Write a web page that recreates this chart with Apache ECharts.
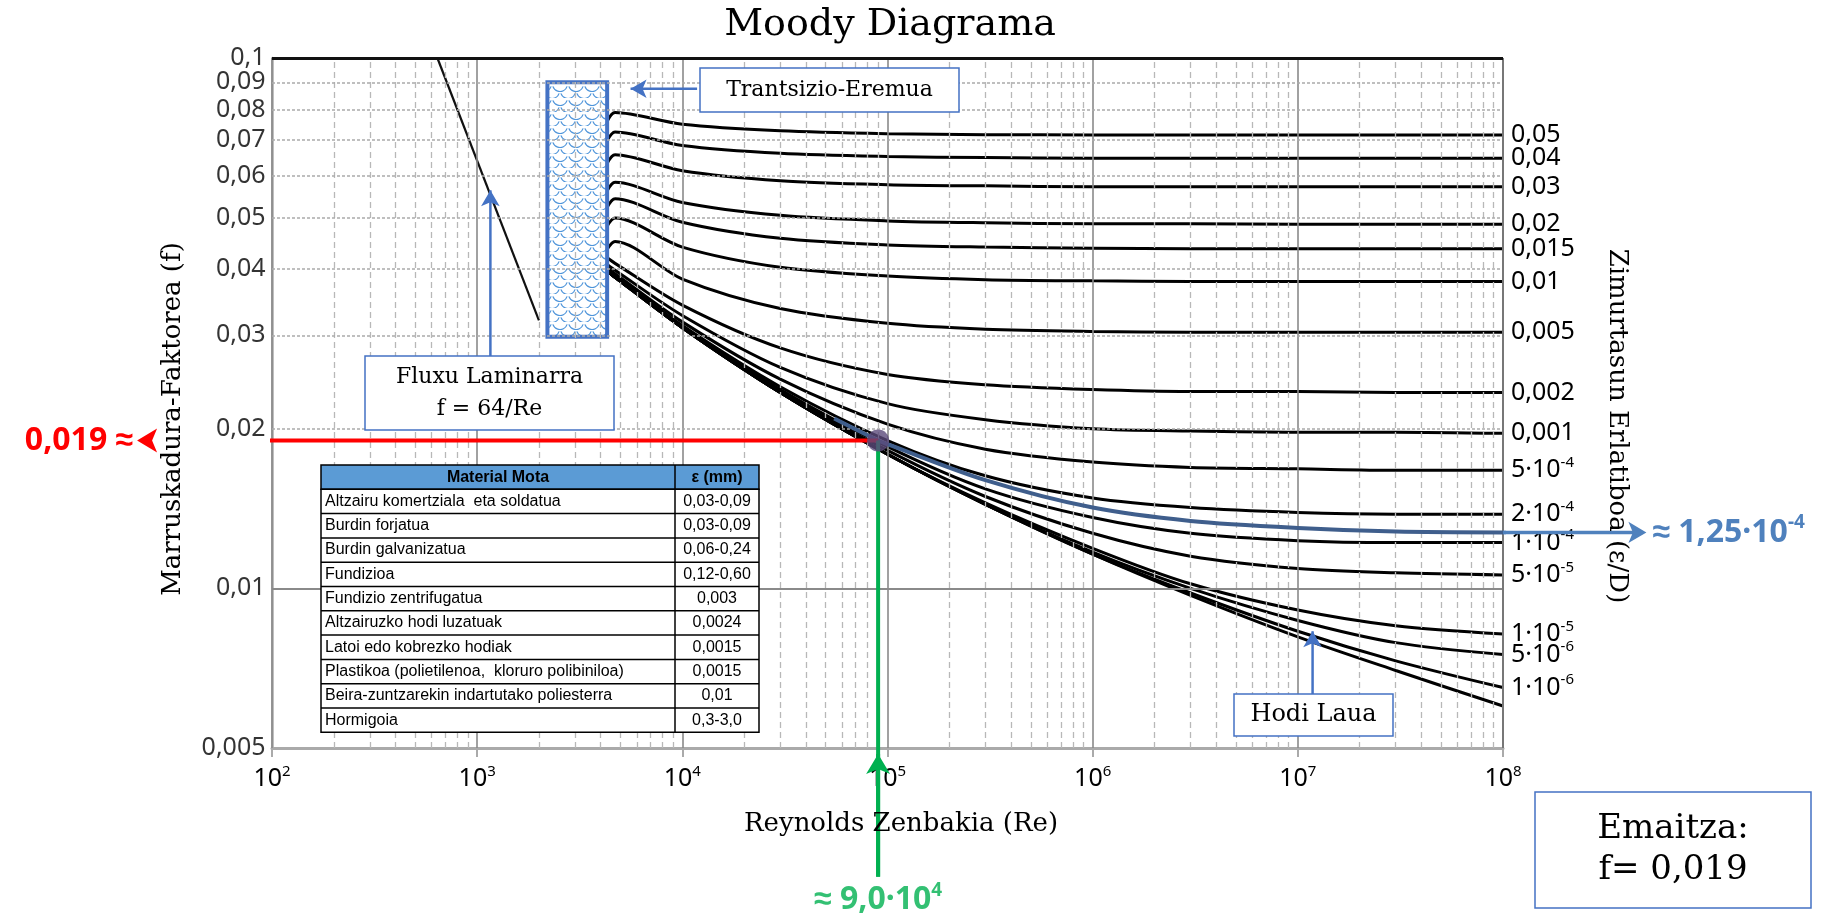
<!DOCTYPE html>
<html>
<head>
<meta charset="utf-8">
<title>Moody Diagrama</title>
<style>html,body{margin:0;padding:0;background:#fff}#chart{width:1831px;height:918px}</style>
</head>
<body>
<div id="chart"></div>
<script src="https://cdn.jsdelivr.net/npm/echarts@6/dist/echarts.min.js"></script>
<script>
// Re lagin-puntuak eta kurba bakoitzaren f balioak (irudiatik irakurriak)
var reSamples = [4300, 4700, 1e4, 3e4, 1e5, 3e5, 1e6, 3e6, 1e7, 3e7, 1e8];
var f_0_05   = [0.0760, 0.0789, 0.0750, 0.0729, 0.0720, 0.0717, 0.0716, 0.0716, 0.0716, 0.0716, 0.0716];
var f_0_04   = [0.0698, 0.0725, 0.0684, 0.0661, 0.0652, 0.0649, 0.0647, 0.0647, 0.0647, 0.0647, 0.0647];
var f_0_03   = [0.0633, 0.0657, 0.0613, 0.0587, 0.0577, 0.0574, 0.0572, 0.0572, 0.0572, 0.0572, 0.0572];
var f_0_02   = [0.0562, 0.0583, 0.0534, 0.0505, 0.0493, 0.0489, 0.0487, 0.0487, 0.0486, 0.0486, 0.0486];
var f_0_015  = [0.0523, 0.0543, 0.0490, 0.0457, 0.0444, 0.0440, 0.0438, 0.0437, 0.0437, 0.0437, 0.0437];
var f_0_01   = [0.0482, 0.0499, 0.0440, 0.0403, 0.0388, 0.0382, 0.0380, 0.0379, 0.0379, 0.0379, 0.0379];
var f_0_005  = [0.0436, 0.0451, 0.0383, 0.0337, 0.0316, 0.0308, 0.0305, 0.0304, 0.0304, 0.0304, 0.0304];
var f_0_002  = [0.0420, 0.0410, 0.0342, 0.0284, 0.0253, 0.0242, 0.0237, 0.0235, 0.0235, 0.0234, 0.0234];
var f_0_001  = [0.0408, 0.0398, 0.0327, 0.0261, 0.0223, 0.0208, 0.0200, 0.0198, 0.0197, 0.0197, 0.0196];
var f_5e_4   = [0.0402, 0.0392, 0.0318, 0.0248, 0.0204, 0.0183, 0.0173, 0.0169, 0.0168, 0.0167, 0.0167];
var f_2e_4   = [0.0399, 0.0388, 0.0313, 0.0240, 0.0190, 0.0163, 0.0148, 0.0142, 0.0139, 0.0138, 0.0138];
var f_1e_4   = [0.0398, 0.0387, 0.0312, 0.0237, 0.0185, 0.0154, 0.0136, 0.0127, 0.0123, 0.0122, 0.0122];
var f_5e_5   = [0.0397, 0.0386, 0.0311, 0.0235, 0.0182, 0.0149, 0.0127, 0.0115, 0.0109, 0.0107, 0.0106];
var f_1e_5   = [0.0397, 0.0386, 0.0310, 0.0234, 0.0179, 0.0145, 0.0119, 0.0102, 0.0091, 0.0085, 0.0082];
var f_5e_6   = [0.0397, 0.0386, 0.0310, 0.0234, 0.0179, 0.0144, 0.0117, 0.0100, 0.0087, 0.0079, 0.0075];
var f_1e_6   = [0.0397, 0.0386, 0.0310, 0.0234, 0.0179, 0.0144, 0.0116, 0.0098, 0.0083, 0.0073, 0.0065];
var f_smooth = [0.0397, 0.0386, 0.0310, 0.0234, 0.0179, 0.0144, 0.0116, 0.0097, 0.0081, 0.0070, 0.0060];

var roughLabels = ['0,05', '0,04', '0,03', '0,02', '0,015', '0,01', '0,005', '0,002', '0,001',
                   '5·10^-4', '2·10^-4', '1·10^-4', '5·10^-5', '1·10^-5', '5·10^-6', '1·10^-6'];
var roughCurves = [f_0_05, f_0_04, f_0_03, f_0_02, f_0_015, f_0_01, f_0_005, f_0_002, f_0_001,
                   f_5e_4, f_2e_4, f_1e_4, f_5e_5, f_1e_5, f_5e_6, f_1e_6];

// ε/D = 1,25·10^-4 kurba (urdina)
var reBlue = [5.5e4, 9e4, 1e5, 3e5, 1e6, 3e6, 1e7, 3e7, 1e8];
var fBlue  = [0.0209, 0.0190, 0.0187, 0.0160, 0.0142, 0.0134, 0.0130, 0.0128, 0.01275];
var blueArrowRe = [1e8, 5e8];
var blueArrowF = 0.01275;

// fluxu laminarra f = 64/Re
var reLaminar = [640, 2000];
var fLaminar  = [0.1, 0.032];

// trantsizio eremua
var transRe = [2200, 4300];
var transF  = [0.0298, 0.0900];

// emaitza puntua
var resultRe = 9e4;
var resultF = 0.019;

// ardatzak
var xTickLabels = ['10^2', '10^3', '10^4', '10^5', '10^6', '10^7', '10^8'];
var yTicks = [0.1, 0.09, 0.08, 0.07, 0.06, 0.05, 0.04, 0.03, 0.02, 0.01, 0.005];
var yTickLabels = ['0,1', '0,09', '0,08', '0,07', '0,06', '0,05', '0,04', '0,03', '0,02', '0,01', '0,005'];

// material taula
var materialHeader = ['Material Mota', 'ε (mm)'];
var materials = ['Altzairu komertziala  eta soldatua', 'Burdin forjatua', 'Burdin galvanizatua', 'Fundizioa',
                 'Fundizio zentrifugatua', 'Altzairuzko hodi luzatuak', 'Latoi edo kobrezko hodiak',
                 'Plastikoa (polietilenoa,  kloruro polibiniloa)', 'Beira-zuntzarekin indartutako poliesterra', 'Hormigoia'];
var materialEps = ['0,03-0,09', '0,03-0,09', '0,06-0,24', '0,12-0,60', '0,003', '0,0024', '0,0015', '0,0015', '0,01', '0,3-3,0'];

var SERIF = '"DejaVu Serif", serif';
var SANS = '"Noto Sans", sans-serif';
var NARROW = '"Liberation Sans Narrow", "Liberation Sans", sans-serif';

function rich(size, color, weight) {
    return {
        n: {fontSize: size, fontFamily: SANS, fontWeight: weight || 'normal', color: color, lineHeight: Math.round(size * 1.2)},
        p: {fontSize: Math.round(size * 0.6), fontFamily: SANS, fontWeight: weight || 'normal', color: color,
            lineHeight: Math.round(size * 0.6), verticalAlign: 'top'}
    };
}
function supText(s) {
    var parts = s.split('^');
    return parts.length > 1 ? '{n|' + parts[0] + '}{p|' + parts[1] + '}' : '{n|' + s + '}';
}
function pairs(xs, ys) {
    return xs.map(function (x, i) { return [x, ys[i]]; });
}

function makePattern() {
    var c = document.createElement('canvas');
    c.width = 16; c.height = 14;
    var g = c.getContext('2d');
    g.fillStyle = '#fff';
    g.fillRect(0, 0, 16, 14);
    g.strokeStyle = '#4F95DA';
    g.lineWidth = 1.2;
    [[0, 0], [16, 0], [8, 7], [0, 14], [16, 14]].forEach(function (p) {
        g.beginPath();
        g.arc(p[0], p[1], 7.5, 0.1 * Math.PI, 0.9 * Math.PI);
        g.stroke();
    });
    return c;
}

var dom = document.getElementById('chart');
var myChart = echarts.init(dom);

// sareta lerroak
var decades = [100, 1000, 1e4, 1e5, 1e6, 1e7];
var minorMult = [2, 3, 4, 5, 6, 7, 8, 9];
var gridLines = [];
decades.forEach(function (d) {
    gridLines.push({xAxis: d, lineStyle: {color: '#8a8a8a', width: 1.6, type: 'solid'}});
    minorMult.forEach(function (m) {
        gridLines.push({xAxis: d * m, lineStyle: {color: '#b8b8b8', width: 1.3, type: [6, 4]}});
    });
});
[0.006, 0.007, 0.008, 0.009, 0.02, 0.03, 0.04, 0.05, 0.06, 0.07, 0.08, 0.09].forEach(function (v) {
    gridLines.push({yAxis: v, lineStyle: {color: '#aaaaaa', width: 1.6, type: [3, 2]}});
});
gridLines.push({yAxis: 0.01, lineStyle: {color: '#8a8a8a', width: 1.8, type: 'solid'}});
gridLines.push({xAxis: 1e8, lineStyle: {color: '#777', width: 2, type: 'solid'}});
gridLines.push({yAxis: 0.1, lineStyle: {color: '#111', width: 3, type: 'solid'}});

var series = [];
series.push({
    type: 'line', data: [[100, 0.1]], symbol: 'none', z: 1, clip: false, silent: true,
    markLine: {symbol: ['none', 'none'], silent: true, label: {show: false}, data: gridLines}
});

// trantsizio eremua
var pattern = makePattern();
series.push({
    type: 'custom', z: 4, clip: false,
    data: [[transRe[0], transF[0], transRe[1], transF[1]]],
    encode: {x: [0, 2], y: [1, 3]},
    renderItem: function (params, api) {
        var a = api.coord([api.value(0), api.value(3)]);
        var b = api.coord([api.value(2), api.value(1)]);
        return {
            type: 'rect',
            shape: {x: a[0], y: a[1], width: b[0] - a[0], height: b[1] - a[1]},
            style: {fill: {image: pattern, repeat: 'repeat'}, stroke: '#4472C4', lineWidth: 4}
        };
    }
});

// laminarra
series.push({
    type: 'line', data: pairs(reLaminar, fLaminar), symbol: 'none', z: 3,
    lineStyle: {color: '#111', width: 2.2}
});

// zimurtasun kurbak
roughCurves.forEach(function (fs, i) {
    series.push({
        type: 'line', data: pairs(reSamples, fs), symbol: 'none', smooth: 0.3, z: 3,
        lineStyle: {color: '#000', width: 3},
        endLabel: {
            show: true, distance: 8,
            formatter: function () { return supText(roughLabels[i]); },
            rich: rich(25, '#000')
        }
    });
});
series.push({
    type: 'line', data: pairs(reSamples, f_smooth), symbol: 'none', smooth: 0.3, z: 3,
    lineStyle: {color: '#000', width: 3}
});

// ε/D = 1,25·10^-4
series.push({
    type: 'line', data: pairs(reBlue, fBlue), symbol: 'none', smooth: 0.3, z: 5,
    lineStyle: {color: '#3F5E8C', width: 4}
});

function arrowSeries(pts, color, width, rotate, size, label) {
    var end = {value: pts[1], symbol: 'arrow', symbolSize: size, symbolRotate: rotate};
    if (label) end.label = label;
    return {
        type: 'line', clip: false, z: 7, symbol: 'arrow', showSymbol: true,
        itemStyle: {color: color}, lineStyle: {color: color, width: width},
        data: [{value: pts[0], symbol: 'none'}, end]
    };
}
function plainLine(pts, color, width) {
    return {
        type: 'line', clip: false, z: 7, symbol: 'none', data: pts,
        lineStyle: {color: color, width: width}
    };
}

// emaitzaren lerroak
series.push(arrowSeries([[resultRe, resultF], [22, resultF]], '#FF0000', 4, 90, [18, 20], {
    show: true, position: 'left', distance: 4,
    formatter: function () { return '{n|0,019 ≈}'; }, rich: rich(32, '#FF0000', 'bold')
}));
series.push(plainLine([[resultRe, resultF], [resultRe, 0.00286]], '#00B050', 4));
series.push(arrowSeries([[resultRe, 0.00286], [resultRe, 0.00487]], '#00B050', 4, 0, [18, 20]));
series.push({
    type: 'scatter', clip: false, z: 7, symbolSize: 1, itemStyle: {color: 'rgba(0,0,0,0)'},
    data: [[resultRe, 0.00286]],
    label: {show: true, position: 'bottom', distance: 4,
        formatter: function () { return supText('≈ 9,0·10^4'); }, rich: rich(32, '#00B050', 'bold')}
});
series.push(arrowSeries([[blueArrowRe[0], blueArrowF], [blueArrowRe[1], blueArrowF]], '#4F81BD', 3.5, -90, [16, 18], {
    show: true, position: 'right', distance: 6,
    formatter: function () { return supText('≈ 1,25·10^-4'); }, rich: rich(32, '#4F81BD', 'bold')
}));

// oharren geziak
series.push(arrowSeries([[11800, 0.0875], [5594, 0.0875]], '#4472C4', 2.5, 90, [14, 16]));
series.push(arrowSeries([[1160, 0.0274], [1160, 0.0563]], '#4472C4', 2.5, 0, [14, 16]));
series.push(arrowSeries([[1.18e7, 0.0063], [1.18e7, 0.0083]], '#4472C4', 2.5, 0, [14, 16]));

// puntua
series.push({
    type: 'scatter', z: 9, symbolSize: 22, data: [[resultRe, resultF]],
    itemStyle: {color: '#5B4A7A'}
});

// y ardatzeko etiketak
series.push({
    type: 'scatter', clip: false, z: 6, symbolSize: 1, silent: true,
    itemStyle: {color: 'rgba(0,0,0,0)'},
    data: yTicks.map(function (v) { return [100, v]; }),
    label: {show: true, position: 'left', distance: 6, fontSize: 25, fontFamily: SANS, color: '#000',
        formatter: function (p) { return yTickLabels[p.dataIndex]; }}
});

// grafikoak: izenburua, ardatzen izenak, oharrak eta taula
var graphics = [
    {type: 'text', x: 890, y: 25, z: 100, style: {text: 'Moody Diagrama', fontSize: 38, fontFamily: SERIF,
        fill: '#000', textAlign: 'center', textVerticalAlign: 'middle'}},
    {type: 'text', x: 173, y: 419, rotation: Math.PI / 2, z: 100, style: {text: 'Marruskadura-Faktorea (f)',
        fontSize: 26, fontFamily: SERIF, fill: '#000', textAlign: 'center', textVerticalAlign: 'middle'}},
    {type: 'text', x: 1617, y: 426, rotation: -Math.PI / 2, z: 100, style: {text: 'Zimurtasun Erlatiboa (ε/D)',
        fontSize: 26, fontFamily: SERIF, fill: '#000', textAlign: 'center', textVerticalAlign: 'middle'}},
    {type: 'text', x: 901, y: 824, z: 100, style: {text: 'Reynolds Zenbakia (Re)',
        fontSize: 26, fontFamily: SERIF, fill: '#000', textAlign: 'center', textVerticalAlign: 'middle'}}
];

function noteBox(x, y, w, h, lines, size, lineGap) {
    graphics.push({type: 'rect', z: 100, shape: {x: x, y: y, width: w, height: h},
        style: {fill: '#fff', stroke: '#4472C4', lineWidth: 1.5}});
    lines.forEach(function (t, i) {
        graphics.push({type: 'text', z: 101, x: x + w / 2, y: y + h / 2 + (i - (lines.length - 1) / 2) * lineGap,
            style: {text: t, fontSize: size, fontFamily: SERIF, fill: '#000', textAlign: 'center', textVerticalAlign: 'middle'}});
    });
}
noteBox(700, 68, 259, 44, ['Trantsizio-Eremua'], 22, 0);
noteBox(365, 356, 249, 74, ['Fluxu Laminarra', 'f = 64/Re'], 22, 32);
noteBox(1234, 694, 159, 42, ['Hodi Laua'], 24, 0);
noteBox(1535, 792, 276, 116, ['Emaitza:', 'f= 0,019'], 34, 41);

// taula
var tx = 321, ty = 465, tw = 438, tSplit = 675, rowH = 24.3;
var nRows = materials.length + 1;
graphics.push({type: 'rect', z: 100, shape: {x: tx, y: ty, width: tw, height: rowH},
    style: {fill: '#5B9BD5', stroke: '#000', lineWidth: 1.5}});
graphics.push({type: 'rect', z: 100, shape: {x: tx, y: ty + rowH, width: tw, height: rowH * (nRows - 1)},
    style: {fill: '#fff', stroke: '#000', lineWidth: 1.5}});
for (var r = 2; r < nRows; r++) {
    graphics.push({type: 'line', z: 101, shape: {x1: tx, y1: ty + r * rowH, x2: tx + tw, y2: ty + r * rowH},
        style: {stroke: '#000', lineWidth: 1.5}});
}
graphics.push({type: 'line', z: 101, shape: {x1: tSplit, y1: ty, x2: tSplit, y2: ty + nRows * rowH},
    style: {stroke: '#000', lineWidth: 1.5}});
graphics.push({type: 'text', z: 102, x: (tx + tSplit) / 2, y: ty + rowH / 2, style: {text: materialHeader[0],
    fontSize: 16, fontWeight: 'bold', fontFamily: NARROW, fill: '#000', textAlign: 'center', textVerticalAlign: 'middle'}});
graphics.push({type: 'text', z: 102, x: (tSplit + tx + tw) / 2, y: ty + rowH / 2, style: {text: materialHeader[1],
    fontSize: 16, fontWeight: 'bold', fontFamily: NARROW, fill: '#000', textAlign: 'center', textVerticalAlign: 'middle'}});
materials.forEach(function (m, i) {
    var yy = ty + (i + 1.5) * rowH;
    graphics.push({type: 'text', z: 102, x: tx + 4, y: yy, style: {text: m, fontSize: 16, fontFamily: NARROW,
        fill: '#000', textAlign: 'left', textVerticalAlign: 'middle'}});
    graphics.push({type: 'text', z: 102, x: (tSplit + tx + tw) / 2, y: yy, style: {text: materialEps[i], fontSize: 16,
        fontFamily: NARROW, fill: '#000', textAlign: 'center', textVerticalAlign: 'middle'}});
});

var option = {
    animation: false,
    backgroundColor: '#fff',
    grid: {left: 272, right: 328, top: 58, bottom: 170, containLabel: false},
    xAxis: {
        type: 'log', logBase: 10, min: 100, max: 1e8, splitNumber: 6,
        axisLine: {show: true, lineStyle: {color: '#aaa', width: 3}},
        axisTick: {show: true, length: 9, lineStyle: {color: '#aaa', width: 2}},
        splitLine: {show: false},
        axisLabel: {
            margin: 16,
            formatter: function (v) {
                var e = Math.round(Math.log10(v));
                return supText(xTickLabels[e - 2] || '');
            },
            rich: rich(25, '#000')
        }
    },
    yAxis: {
        type: 'log', logBase: 10, min: 0.005, max: 0.1,
        axisLine: {show: true, lineStyle: {color: '#aaa', width: 2.5}},
        axisTick: {show: false},
        axisLabel: {show: false},
        splitLine: {show: false}
    },
    graphic: graphics,
    series: series
};

if (option && typeof option === 'object') {
    myChart.setOption(option, true);
    // gezi urdinaren gorputza, ardatzaren eskalaren bidez kokatua
    var pA = myChart.convertToPixel({gridIndex: 0}, [blueArrowRe[0], blueArrowF]);
    var pB = myChart.convertToPixel({gridIndex: 0}, [blueArrowRe[1], blueArrowF]);
    if (pA && pB) {
        graphics.push({type: 'line', z: 50, shape: {x1: pA[0], y1: pA[1], x2: pB[0] - 4, y2: pB[1]},
            style: {stroke: '#4F81BD', lineWidth: 3.5}});
        myChart.setOption({graphic: graphics});
    }
}
</script>
</body>
</html>
